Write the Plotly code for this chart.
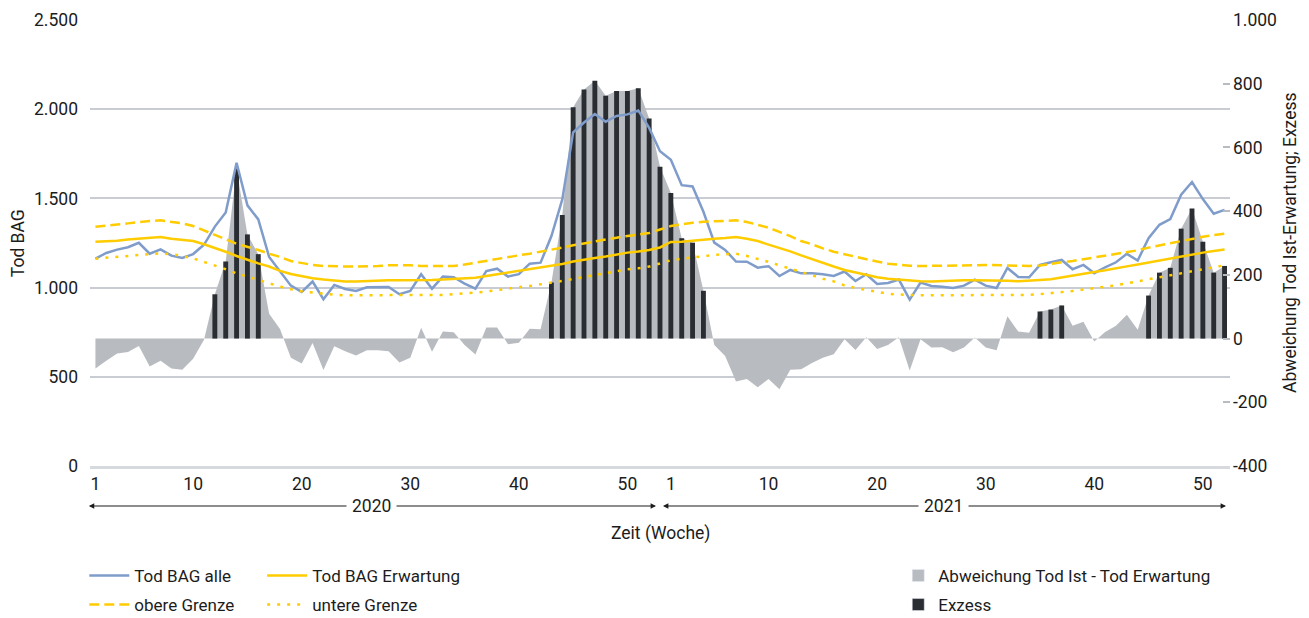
import plotly.graph_objects as go

# weeks: 2020 has 53 ISO weeks, 2021 has 52
weeks_2020 = list(range(1, 54))
weeks_2021 = list(range(1, 53))
categories = [f"2020-{w:02d}" for w in weeks_2020] + [f"2021-{w:02d}" for w in weeks_2021]

# Tod BAG alle (left axis)
tod_alle = [
    1162, 1194, 1213, 1226, 1251, 1190, 1214, 1179, 1166, 1188,
    1240, 1342, 1421, 1700, 1461, 1382, 1172, 1093, 1011, 976,
    1034, 935, 1015, 992, 981, 1002, 1004, 1004, 963, 981,
    1075, 994, 1062, 1058, 1022, 994, 1093, 1106, 1062, 1075,
    1134, 1140, 1289, 1494, 1870, 1925, 1973, 1930, 1962, 1971,
    1993, 1895, 1764,
    1717, 1574, 1567, 1425, 1252, 1211, 1146, 1145, 1112, 1120,
    1065, 1099, 1080, 1080, 1075, 1065, 1090, 1037, 1075, 1020,
    1026, 1045, 933, 1028, 1009, 1005, 998, 1011, 1045, 1011,
    998, 1110, 1060, 1058, 1127, 1142, 1155, 1103, 1127, 1081,
    1114, 1142, 1189, 1152, 1277, 1352, 1384, 1521, 1592, 1496,
    1414, 1436,
]

# Tod BAG Erwartung
tod_erwartung = [
    1257, 1258, 1263, 1270, 1276, 1278, 1284, 1274, 1269, 1261,
    1243, 1224, 1201, 1177, 1155, 1136, 1118, 1094, 1076, 1062,
    1052, 1045, 1038, 1034, 1034, 1037, 1040, 1041, 1041, 1041,
    1041, 1042, 1046, 1050, 1052, 1055, 1065, 1075, 1084, 1091,
    1103, 1112, 1121, 1132, 1146, 1157, 1166, 1174, 1187, 1196,
    1202, 1211, 1225,
    1256, 1257, 1263, 1271, 1274, 1278, 1284, 1274, 1261, 1241,
    1224, 1203, 1181, 1159, 1136, 1118, 1099, 1084, 1069, 1058,
    1050, 1045, 1039, 1035, 1034, 1037, 1040, 1041, 1041, 1041,
    1041, 1039, 1035, 1037, 1043, 1047, 1058, 1069, 1078, 1088,
    1097, 1106, 1119, 1129, 1140, 1153, 1164, 1175, 1188, 1196,
    1205, 1213,
]

# obere Grenze
obere_grenze = [
    1341, 1349, 1354, 1360, 1368, 1373, 1377, 1369, 1360, 1345,
    1321, 1299, 1271, 1246, 1229, 1211, 1190, 1172, 1149, 1136,
    1127, 1121, 1118, 1118, 1118, 1118, 1121, 1125, 1127, 1125,
    1121, 1121, 1121, 1121, 1129, 1140, 1147, 1159, 1170, 1181,
    1190, 1200, 1211, 1224, 1237, 1248, 1261, 1271, 1280, 1289,
    1297, 1306, 1326,
    1345, 1354, 1364, 1369, 1373, 1375, 1377, 1368, 1354, 1336,
    1312, 1289, 1261, 1243, 1220, 1201, 1187, 1172, 1159, 1146,
    1134, 1127, 1123, 1121, 1121, 1121, 1121, 1121, 1125, 1127,
    1125, 1121, 1119, 1121, 1124, 1134, 1142, 1149, 1159, 1168,
    1175, 1187, 1196, 1209, 1224, 1237, 1248, 1263, 1274, 1285,
    1295, 1302,
]

# untere Grenze
untere_grenze = [
    1162, 1168, 1174, 1179, 1185, 1188, 1192, 1187, 1177, 1164,
    1144, 1125, 1103, 1080, 1062, 1041, 1022, 1006, 991, 979,
    972, 965, 960, 957, 957, 957, 957, 957, 957, 957,
    957, 957, 959, 963, 966, 972, 978, 987, 994, 1002,
    1009, 1017, 1028, 1037, 1049, 1060, 1073, 1084, 1093, 1103,
    1108, 1118, 1135,
    1153, 1162, 1170, 1177, 1183, 1187, 1190, 1177, 1162, 1144,
    1125, 1106, 1088, 1069, 1050, 1035, 1012, 998, 987, 976,
    966, 961, 957, 957, 957, 957, 957, 957, 957, 957,
    957, 957, 957, 959, 963, 968, 976, 981, 989, 996,
    1004, 1013, 1024, 1034, 1045, 1058, 1069, 1080, 1091, 1103,
    1114, 1125,
]

# Abweichung Tod Ist - Tod Erwartung (right axis)
abweichung = [
    -94, -70, -47, -42, -23, -88, -70, -94, -98, -63,
    -4, 139, 242, 533, 327, 265, 78, 30, -60, -78,
    -14, -99, -24, -40, -53, -37, -37, -40, -75, -60,
    34, -41, 22, 20, -20, -50, 35, 35, -18, -13,
    31, 29, 176, 388, 726, 782, 809, 762, 777, 777,
    786, 691, 539,
    457, 315, 301, 150, -20, -55, -135, -127, -153, -127,
    -159, -98, -96, -77, -60, -49, -2, -36, 4, -33,
    -20, 4, -100, -2, -28, -27, -43, -28, 3, -28,
    -37, 70, 22, 18, 85, 91, 104, 40, 53, -9,
    21, 40, 75, 28, 135, 207, 222, 345, 408, 304,
    207, 228,
]

# Exzess (only weeks above the upper limit)
exzess = [
    None, None, None, None, None, None, None, None, None, None,
    None, 139, 242, 533, 327, 265, None, None, None, None,
    None, None, None, None, None, None, None, None, None, None,
    None, None, None, None, None, None, None, None, None, None,
    None, None, 176, 388, 726, 782, 809, 762, 777, 777,
    786, 691, 539,
    457, 315, 301, 150, None, None, None, None, None, None,
    None, None, None, None, None, None, None, None, None, None,
    None, None, None, None, None, None, None, None, None, None,
    None, None, None, None, 85, 91, 104, None, None, None,
    None, None, None, None, 135, 207, 222, 345, 408, 304,
    207, 228,
]

left_ticks = [0, 500, 1000, 1500, 2000, 2500]
left_ticktext = ["0", "500", "1.000", "1.500", "2.000", "2.500"]
right_ticks = [-400, -200, 0, 200, 400, 600, 800, 1000]
right_ticktext = ["-400", "-200", "0", "200", "400", "600", "800", "1.000"]
x_tickweeks = [1, 10, 20, 30, 40, 50]

FONT = "Roboto, Liberation Sans, sans-serif"
FS = 17.5
TXT = "#1c1c1c"
BLUE = "#7f9ccb"
GOLD = "#ffcc00"
GREY = "#b8bcc0"
DARK = "#2a2d31"
RIGHT_RANGE = [-400, 1000]

fig = go.Figure()

# grey deviation area on the base (right) axis
fig.add_trace(go.Scatter(x=categories, y=abweichung, fill="tozeroy", mode="none",
                         fillcolor=GREY, showlegend=False, hoverinfo="skip", yaxis="y"))
# excess bars on a hidden twin of the right axis so they sit above the area
fig.add_trace(go.Bar(x=categories, y=exzess, width=0.45, marker_color=DARK,
                     marker_line_width=0, showlegend=False, yaxis="y2"))

# legend-only squares for the right legend
fig.add_trace(go.Bar(x=[None], y=[None], name="Abweichung Tod Ist - Tod Erwartung",
                     marker_color=GREY, legend="legend5", yaxis="y2"))
fig.add_trace(go.Bar(x=[None], y=[None], name="Exzess",
                     marker_color=DARK, legend="legend6", yaxis="y2"))

# left axis lines (top overlay)
fig.add_trace(go.Scatter(x=categories, y=tod_alle, mode="lines", name="Tod BAG alle",
                         line=dict(color=BLUE, width=2.5), legend="legend", yaxis="y3"))
fig.add_trace(go.Scatter(x=categories, y=tod_erwartung, mode="lines", name="Tod BAG Erwartung",
                         line=dict(color=GOLD, width=2.5), legend="legend2", yaxis="y3"))
fig.add_trace(go.Scatter(x=categories, y=obere_grenze, mode="lines", name="obere Grenze",
                         line=dict(color=GOLD, width=2.5, dash="10px,5px"), legend="legend3", yaxis="y3"))
fig.add_trace(go.Scatter(x=categories, y=untere_grenze, mode="lines", name="untere Grenze",
                         line=dict(color=GOLD, width=2.5, dash="3px,7px"), legend="legend4", yaxis="y3"))

tickvals_x = [f"2020-{w:02d}" for w in x_tickweeks] + [f"2021-{w:02d}" for w in x_tickweeks]
ticktext_x = [str(w) for w in x_tickweeks] * 2

leg = dict(orientation="h", xanchor="left", yanchor="middle", yref="container",
           bgcolor="rgba(0,0,0,0)", font=dict(family=FONT, size=17, color=TXT),
           itemwidth=40)

ROW1, ROW2 = 1 - 576 / 618, 1 - 605 / 618

fig.update_layout(
    width=1309, height=618,
    margin=dict(l=90, r=79, t=20, b=152, autoexpand=False),
    paper_bgcolor="white", plot_bgcolor="white",
    font=dict(family=FONT, size=FS, color=TXT),
    barmode="overlay",
    xaxis=dict(type="category", range=[-0.5, 104.5], tickvals=tickvals_x, ticktext=ticktext_x,
               showgrid=False, showline=True, linecolor="#d6d9dd", linewidth=2.5,
               ticks="", fixedrange=True),
    yaxis=dict(side="right", range=RIGHT_RANGE, tickvals=right_ticks, ticktext=right_ticktext,
               showgrid=False, zeroline=False, ticks="inside", ticklen=7,
               tickcolor="#b7bcc3", tickwidth=1.5, ticklabelstandoff=2),
    yaxis2=dict(overlaying="y", side="right", range=RIGHT_RANGE, visible=False),
    yaxis3=dict(overlaying="y", side="left", range=[0, 2500], tickvals=left_ticks,
                ticktext=left_ticktext, showgrid=True, gridcolor="#c9cdd3", gridwidth=1.5,
                zeroline=False, ticks="", ticklabelstandoff=11),
    legend=dict(leg, x=-0.005, y=ROW1),
    legend2=dict(leg, x=0.151, y=ROW1),
    legend3=dict(leg, x=-0.005, y=ROW2),
    legend4=dict(leg, x=0.151, y=ROW2),
    legend5=dict(leg, x=0.709, y=ROW1, itemwidth=30),
    legend6=dict(leg, x=0.709, y=ROW2, itemwidth=30),
    showlegend=True,
)

ann = []
# year arrows (head at the ends, tail at the year label)
for tip_x, tail_px in [(-0.001, 282), (0.4965, -285), (0.5026, 281), (0.9965, -282)]:
    ann.append(dict(xref="paper", yref="paper", x=tip_x, y=-0.0897, text="", showarrow=True,
                    ax=tail_px, ay=0, arrowhead=2, arrowsize=0.9, arrowwidth=1.2,
                    arrowcolor=TXT, standoff=0, startstandoff=0))
txt = dict(xref="paper", yref="paper", showarrow=False, xanchor="center", yanchor="middle",
           font=dict(size=FS))
ann.append(dict(txt, x=0.2465, y=-0.0897, text="2020", bgcolor="white", borderpad=5))
ann.append(dict(txt, x=0.749, y=-0.0897, text="2021", bgcolor="white", borderpad=5))
ann.append(dict(txt, x=0.5, y=-0.152, text="Zeit (Woche)"))
ann.append(dict(txt, x=-0.063, y=0.5, text="Tod BAG", textangle=-90))
ann.append(dict(txt, x=1.0526, y=0.5, text="Abweichung Tod Ist-Erwartung; Exzess", textangle=-90))
fig.update_layout(annotations=ann)

# the page body has a default 8px margin; drop it so the figure fills the window
fig.write_html("out.html", config={"displayModeBar": False},
               post_script="document.body.style.margin='0';")
